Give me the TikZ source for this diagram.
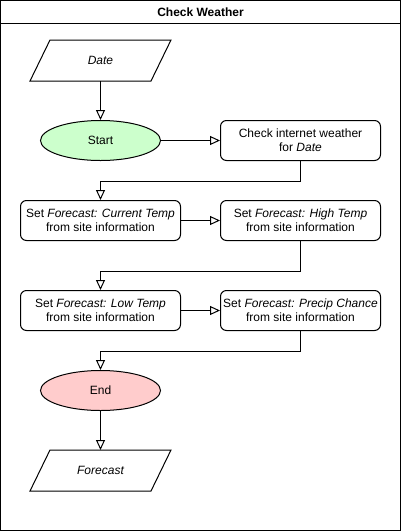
\documentclass[tikz,border=0pt]{standalone}
\usepackage{fontspec}
\setmainfont{Liberation Sans}
\usetikzlibrary{arrows.meta,shapes.geometric,calc}
\definecolor{startgreen}{HTML}{CCFFCC}
\definecolor{endred}{HTML}{FFCCCC}
\begin{document}
\begin{tikzpicture}[x=1pt,y=-1pt,
  font=\fontsize{12}{14}\selectfont,
  line width=1pt,
  arr/.style={-{Triangle[open,length=10pt,width=9pt]}},
  proc/.style={draw,rounded corners=6pt,minimum width=160pt,minimum height=40pt,align=center,inner sep=0pt},
  term/.style={draw,ellipse,minimum width=120pt,minimum height=40pt,inner sep=0pt},
  io/.style={minimum width=140pt,minimum height=40pt,inner sep=0pt,font=\fontsize{12}{14}\selectfont\itshape}
]
\useasboundingbox (0,0) rectangle (401,531);
\draw (0.5,0.5) rectangle (400.5,530.5);
\draw (0.5,23.5) -- (400.5,23.5);
\node[font=\fontsize{12}{14}\selectfont\bfseries] (title) at (200.5,12) {Check Weather};

\node[io] (date) at (100.5,60.5) {Date};
\node[term,fill=startgreen] (start) at (100.5,140.5) {Start};
\node[proc] (check) at (300.5,140.5) {Check internet weather\\for \textit{Date}};
\node[proc] (cur) at (100.5,220.5) {Set \textit{Forecast: Current Temp}\\from site information};
\node[proc] (high) at (300.5,220.5) {Set \textit{Forecast: High Temp}\\from site information};
\node[proc] (low) at (100.5,310.5) {Set \textit{Forecast: Low Temp}\\from site information};
\node[proc] (prec) at (300.5,310.5) {Set \textit{Forecast: Precip Chance}\\from site information};
\node[term,fill=endred] (end) at (100.5,390.5) {End};
\node[io] (fc) at (100.5,470.5) {Forecast};

\foreach \n in {date,fc}
  \draw ($(\n.north west)+(20,0)$) -- (\n.north east) -- ($(\n.south east)+(-20,0)$) -- (\n.south west) -- cycle;

\draw[arr] (date) -- (start);
\draw[arr] (start) -- (check);
\draw[arr] (check.south) -- ++(0,20) -| (cur.north);
\draw[arr] (cur) -- (high);
\draw[arr] (high.south) -- ++(0,30) -| (low.north);
\draw[arr] (low) -- (prec);
\draw[arr] (prec.south) -- ++(0,20) -| (end.north);
\draw[arr] (end) -- (fc);
\end{tikzpicture}
\end{document}
